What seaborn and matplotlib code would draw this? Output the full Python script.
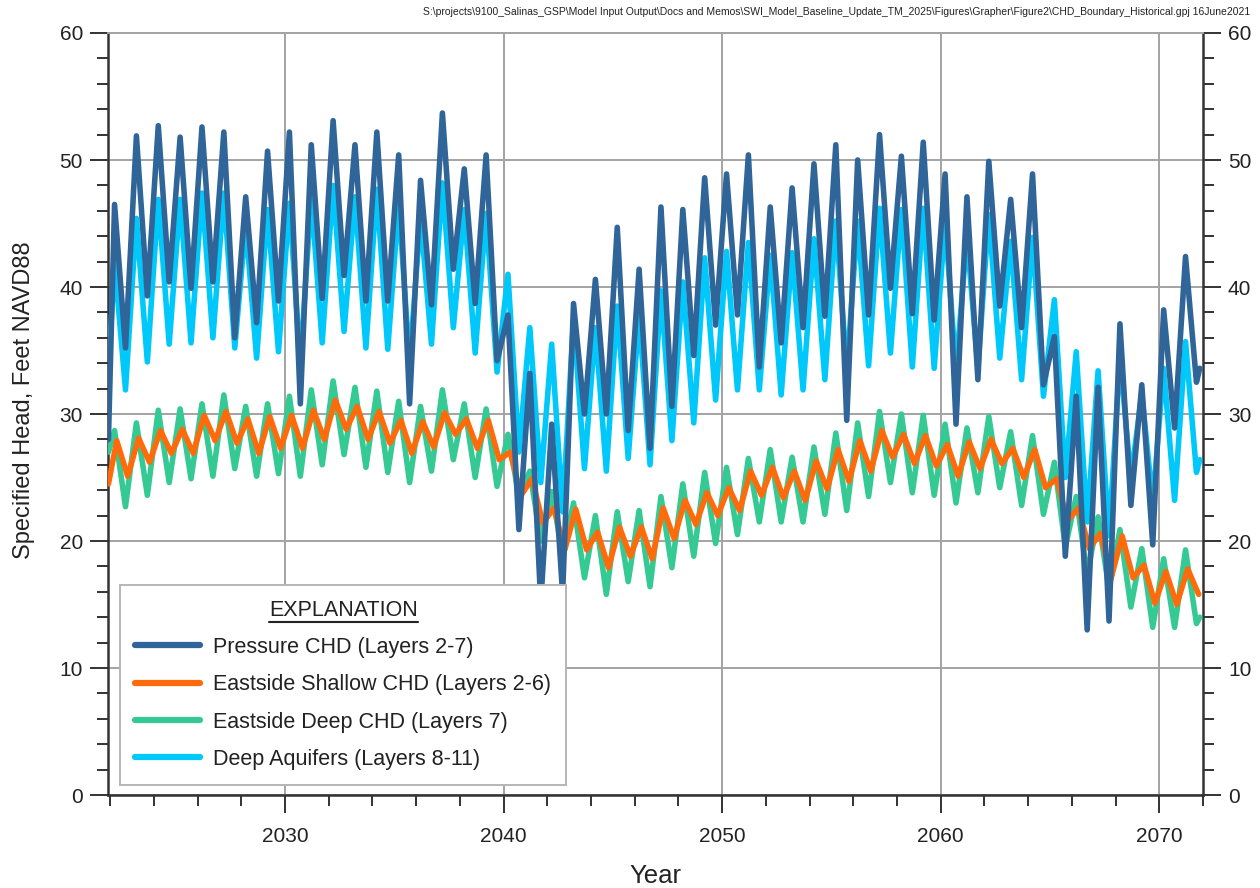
import numpy as np
import pandas as pd
import matplotlib
matplotlib.use("Agg")
import matplotlib.pyplot as plt
import seaborn as sns
from matplotlib.ticker import MultipleLocator
from matplotlib.lines import Line2D
from matplotlib import font_manager

sns.set_theme(style="white")
available = {f.name for f in font_manager.fontManager.ttflist}
FONT = [f for f in ['Liberation Sans Narrow', 'Liberation Sans', 'DejaVu Sans'] if f in available]
plt.rcParams['font.family'] = FONT

# ---------------- data ----------------
cycle_years = list(range(2022, 2072))          # one seasonal cycle per year
start_year = 2021.92
end_year = 2071.85

pressure_start = 28.0
pressure_peaks = [46.5, 51.9, 52.7, 51.8, 52.6, 52.2, 47.1, 50.7, 52.2, 51.2,
                  53.1, 51.2, 52.2, 50.4, 48.4, 53.7, 49.3, 50.4, 37.8, 33.2,
                  29.2, 38.7, 40.6, 44.7, 41.4, 46.3, 46.1, 48.6, 48.9, 50.4,
                  46.3, 47.8, 49.7, 51.2, 50.0, 52.0, 50.3, 51.4, 48.9, 47.1,
                  49.9, 46.9, 48.9, 36.1, 31.4, 32.1, 37.1, 32.3, 38.2, 42.4]
pressure_troughs = [35.2, 39.3, 40.4, 39.9, 40.4, 36.0, 37.2, 38.9, 30.8, 39.1,
                    40.9, 38.9, 38.9, 30.8, 38.6, 41.4, 38.7, 34.2, 20.9, 15.1,
                    15.8, 30.0, 30.0, 28.7, 27.3, 30.6, 34.6, 37.0, 37.8, 33.7,
                    35.6, 36.8, 37.7, 29.5, 37.8, 39.9, 37.9, 37.4, 29.2, 32.7,
                    38.5, 36.8, 32.3, 18.8, 13.0, 13.7, 22.8, 19.7, 28.9, 32.5]
pressure_end = 33.6

shallow_start = 24.5
shallow_peaks = [27.9, 28.1, 28.7, 28.8, 29.9, 30.2, 29.6, 29.8, 29.9, 30.3,
                 31.1, 30.6, 30.2, 29.5, 29.4, 30.1, 29.6, 29.5, 27.0, 24.9,
                 22.6, 22.5, 20.7, 21.1, 21.1, 22.6, 23.2, 23.8, 24.2, 25.5,
                 25.8, 25.5, 26.3, 27.2, 27.9, 28.7, 28.4, 28.3, 27.6, 27.8,
                 28.0, 27.3, 27.2, 24.9, 22.6, 20.6, 20.4, 18.1, 17.6, 17.8]
shallow_troughs = [25.1, 26.2, 26.9, 26.9, 27.9, 27.7, 26.9, 27.3, 27.3, 28.0,
                   28.8, 28.0, 27.7, 26.9, 27.4, 28.4, 27.3, 26.4, 23.6, 21.4,
                   19.3, 19.3, 17.9, 18.8, 18.6, 20.2, 21.3, 22.0, 22.4, 23.6,
                   23.4, 23.2, 24.1, 24.7, 25.5, 26.6, 26.1, 25.9, 25.1, 25.7,
                   26.1, 25.0, 24.2, 21.6, 19.4, 17.1, 17.1, 15.1, 15.0, 15.8]

deep_start = 27.0
deep_peaks = [28.7, 29.3, 30.3, 30.4, 30.8, 31.5, 30.6, 30.8, 31.4, 31.9,
              32.6, 32.1, 31.8, 31.0, 30.6, 31.9, 30.8, 30.4, 28.4, 25.5,
              23.9, 23.0, 22.0, 22.3, 22.4, 23.5, 24.5, 25.4, 25.8, 26.5,
              27.2, 26.6, 27.4, 28.5, 29.3, 30.2, 30.0, 29.9, 29.2, 28.9,
              29.8, 28.6, 28.3, 26.2, 23.5, 21.9, 20.9, 19.4, 18.6, 19.3]
deep_troughs = [22.7, 23.6, 24.6, 24.9, 25.1, 25.7, 25.1, 25.3, 25.1, 26.0,
                26.8, 25.8, 25.4, 24.6, 25.5, 26.4, 25.0, 24.3, 23.5, 20.0,
                18.9, 17.1, 15.8, 16.8, 16.4, 17.9, 18.8, 19.8, 20.5, 21.5,
                21.5, 21.5, 22.1, 22.4, 23.5, 24.6, 23.8, 23.6, 23.0, 23.8,
                24.2, 22.8, 22.1, 19.5, 17.3, 16.2, 14.8, 13.2, 13.2, 13.5]
deep_end = 14.0

aquifer_start = 33.2
aquifer_peaks = [42.0, 45.4, 46.9, 46.9, 47.4, 47.4, 45.0, 46.1, 46.6, 47.1,
                 48.0, 47.1, 47.7, 46.6, 45.5, 48.2, 46.1, 45.8, 41.0, 36.8,
                 35.5, 37.5, 36.8, 38.5, 37.8, 39.7, 40.4, 42.3, 42.8, 43.5,
                 42.5, 42.7, 43.8, 45.2, 45.2, 46.2, 46.1, 46.2, 45.1, 44.0,
                 45.7, 43.6, 43.9, 39.0, 34.9, 33.4, 34.5, 31.6, 33.6, 35.7]
aquifer_troughs = [31.9, 34.1, 35.5, 35.6, 36.0, 35.2, 34.4, 34.9, 34.0, 35.6,
                   36.5, 35.2, 35.1, 34.1, 35.5, 36.8, 34.8, 33.3, 27.0, 24.6,
                   22.3, 25.7, 25.5, 26.5, 26.0, 27.9, 29.3, 31.1, 31.9, 31.9,
                   31.5, 31.9, 32.7, 33.5, 33.8, 34.8, 33.7, 33.6, 33.5, 33.6,
                   34.4, 32.7, 31.4, 25.0, 21.5, 20.4, 24.9, 23.0, 23.2, 25.4]
aquifer_end = 26.4

labels = ["Pressure CHD (Layers 2-7)", "Eastside Shallow CHD (Layers 2-6)",
          "Eastside Deep CHD (Layers 7)", "Deep Aquifers (Layers 8-11)"]
colors = ["#2F6599", "#FF6A0A", "#35C994", "#00C8FA"]


def build(start, peaks, troughs, end, peak_off, trough_off):
    xs, ys = [start_year], [start]
    for yr, p, t in zip(cycle_years, peaks, troughs):
        xs += [yr + peak_off, yr + trough_off]
        ys += [p, t]
    if end is not None:
        xs.append(end_year)
        ys.append(end)
    return pd.DataFrame({"Year": xs, "Head": ys})


series = {
    labels[0]: build(pressure_start, pressure_peaks, pressure_troughs, pressure_end, 0.2, 0.7),
    labels[1]: build(shallow_start, shallow_peaks, shallow_troughs, None, 0.3, 0.8),
    labels[2]: build(deep_start, deep_peaks, deep_troughs, deep_end, 0.2, 0.7),
    labels[3]: build(aquifer_start, aquifer_peaks, aquifer_troughs, aquifer_end, 0.2, 0.7),
}

# ---------------- figure ----------------
fig = plt.figure(figsize=(12.6, 8.88), dpi=100)
ax = fig.add_axes([108 / 1260, 1 - 795 / 888, (1203 - 108) / 1260, 762 / 888])

draw_order = [3, 2, 1, 0]
for z, i in enumerate(draw_order):
    df = series[labels[i]]
    sns.lineplot(data=df, x="Year", y="Head", ax=ax, color=colors[i], lw=4.0,
                 sort=False, estimator=None, zorder=3 + z,
                 solid_joinstyle="round", solid_capstyle="round")

ax.set_xlim(2021.9, 2072.0)
ax.set_ylim(0, 60)
ax.xaxis.set_major_locator(MultipleLocator(10))
ax.xaxis.set_minor_locator(MultipleLocator(2))
ax.yaxis.set_major_locator(MultipleLocator(10))
ax.yaxis.set_minor_locator(MultipleLocator(2))
ax.grid(True, which="major", color="#a3a3a3", lw=1.4, zorder=0)
ax.set_axisbelow(True)

for s in ["left", "bottom", "right"]:
    ax.spines[s].set_color("#333333")
    ax.spines[s].set_linewidth(1.8)
ax.spines["top"].set_color("#a3a3a3")
ax.spines["top"].set_linewidth(1.4)

ax.tick_params(axis="both", which="major", direction="out", length=13, width=1.4,
               color="#333333", labelsize=15, labelcolor="#222222")
ax.tick_params(axis="both", which="minor", direction="out", length=8, width=1.4,
               color="#333333")
ax.tick_params(axis="y", which="both", left=True, right=True, labelleft=True, labelright=True)
ax.tick_params(axis="y", which="major", pad=5)
ax.tick_params(axis="x", which="major", pad=10)
ax.tick_params(axis="x", which="both", bottom=True, top=False)

ax.set_xlabel("Year", fontsize=18.5, color="#222222")
ax.set_ylabel("Specified Head, Feet NAVD88", fontsize=17, color="#222222")
ax.xaxis.label.set_va("center")
ax.yaxis.label.set_va("center")
ax.xaxis.set_label_coords(0.5, -0.106)
ax.yaxis.set_label_coords(-0.0767, 0.518)

handles = [Line2D([0], [0], color=c, lw=4.5, solid_capstyle="round") for c in colors]
leg = ax.legend(handles, labels, title="EXPLANATION", loc="lower left",
                bbox_to_anchor=(0.011, 0.013), bbox_transform=ax.transAxes,
                fontsize=15.5, title_fontsize=15.5, frameon=True, fancybox=False,
                framealpha=1, edgecolor="#b5b5b5", handlelength=3.0,
                handletextpad=0.63, labelspacing=0.76, borderpad=0.7,
                borderaxespad=0)
leg.get_frame().set_linewidth(1.4)
leg.set_zorder(20)
for t in leg.get_texts():
    t.set_color("#222222")
leg.get_title().set_color("#222222")

fig.text(0.992, 0.992,
         r"S:\projects\9100_Salinas_GSP\Model Input Output\Docs and Memos\SWI_Model_Baseline_Update_TM_2025\Figures\Grapher\Figure2\CHD_Boundary_Historical.gpj 16June2021",
         ha="right", va="top", fontsize=7.5, color="#222222")

# underline the legend title
fig.canvas.draw()
renderer = fig.canvas.get_renderer()
bb = leg.get_title().get_window_extent(renderer)
inv = fig.transFigure.inverted()
(x0, y0), (x1, _) = inv.transform([(bb.x0, bb.y0 - 1), (bb.x1, bb.y0)])
fig.add_artist(Line2D([x0, x1], [y0, y0], transform=fig.transFigure,
                      color="#222222", lw=1.5, zorder=30))

fig.savefig("out.png", dpi=100)
